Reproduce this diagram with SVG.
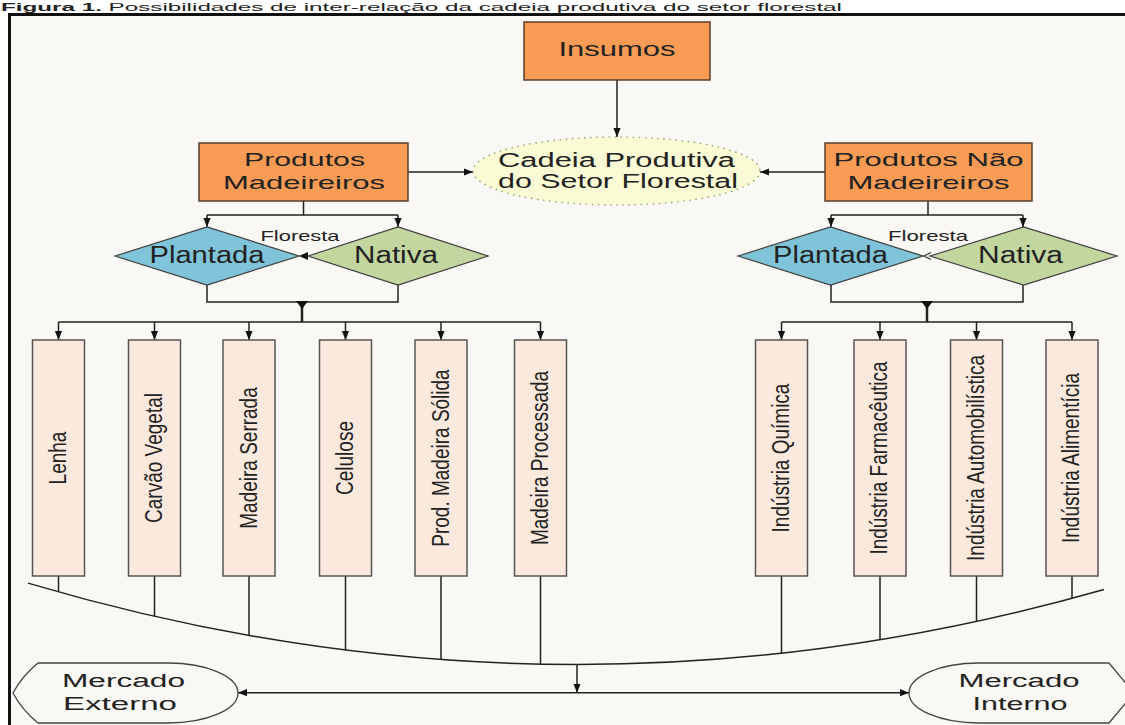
<svg xmlns="http://www.w3.org/2000/svg" width="1125" height="725" viewBox="0 0 1125 725">
<defs>
<marker id="arr" viewBox="0 0 10 10" refX="10" refY="5" markerWidth="9" markerHeight="9" orient="auto-start-reverse" markerUnits="userSpaceOnUse"><path d="M0,1 L10,5 L0,9 z" fill="#111"/></marker>
<style>
.t{font-family:"Liberation Sans",Arial,sans-serif;fill:#222;}
.c{text-anchor:middle;}
.orange{fill:#f79b55;stroke:#5a3e2b;stroke-width:1.5;}
.vbox{fill:#fbe9de;stroke:#555;stroke-width:1.5;}
.pl{fill:#80c4da;stroke:#3d3d3d;stroke-width:1.2;}
.na{fill:#c4d6a0;stroke:#3d3d3d;stroke-width:1.2;}
.mk{fill:#f9f8f4;stroke:#444;stroke-width:1.3;}
.ln{fill:none;stroke:#222;stroke-width:1.5;}
.ar{fill:none;stroke:#222;stroke-width:1.5;marker-end:url(#arr);}
.vt{font-family:"Liberation Sans",Arial,sans-serif;fill:#222;font-size:19px;text-anchor:middle;}
</style>
</defs>
<rect x="0" y="0" width="1125" height="725" fill="#ffffff"/>
<text x="1" y="10.6" font-family="'Liberation Sans',Arial,sans-serif" font-size="11" fill="#222" textLength="841" lengthAdjust="spacingAndGlyphs"><tspan font-weight="bold">Figura 1.</tspan> Possibilidades de inter-relação da cadeia produtiva do setor florestal</text>
<rect x="9.5" y="14.5" width="1130" height="725" fill="#f9f8f4" stroke="#111" stroke-width="3"/>

<g id="connectors">
<path class="ar" d="M617,80 V137"/>
<path class="ar" d="M408,172 H473"/>
<path class="ar" d="M825,172 H760"/>
<path class="ln" d="M303.5,201 V215 M207,215 H398"/>
<path class="ar" d="M207,215 V227"/>
<path class="ar" d="M398,215 V227"/>
<path class="ln" d="M928,201 V215 M831,215 H1023"/>
<path class="ar" d="M831,215 V227"/>
<path class="ar" d="M1023,215 V227"/>
<path class="ln" d="M207,285 V302 H398 V285"/>
<path d="M302,302 V322" stroke="#222" stroke-width="2.5"/>
<polygon points="296,301 308,301 302,309" fill="#111"/>
<polygon points="299,256 308,252 308,260" fill="#111"/>
<path class="ln" d="M831,285 V302 H1023 V285"/>
<path d="M927,302 V322" stroke="#222" stroke-width="2.5"/>
<polygon points="921,301 933,301 927,309" fill="#111"/>
<path d="M931,252.5 L924,256 L931,259.5" fill="none" stroke="#333" stroke-width="1.2"/>
<path class="ln" d="M58.5,322 H540.5"/>
<path class="ar" d="M58.5,322 V340"/>
<path class="ar" d="M154.5,322 V340"/>
<path class="ar" d="M249,322 V340"/>
<path class="ar" d="M345.5,322 V340"/>
<path class="ar" d="M441,322 V340"/>
<path class="ar" d="M540.5,322 V340"/>
<path class="ln" d="M781.5,322 H1072"/>
<path class="ar" d="M781.5,322 V340"/>
<path class="ar" d="M880,322 V340"/>
<path class="ar" d="M976.5,322 V340"/>
<path class="ar" d="M1072,322 V340"/>
<path class="ln" d="M58.5,576 V592 M154.5,576 V616.5 M249,576 V635.7 M345.5,576 V650.2 M441,576 V659.7 M540.5,576 V664.3 M781.5,576 V653.4 M880,576 V639.9 M976.5,576 V621.6 M1072,576 V598.5"/>
<path class="ln" d="M28,583.1 Q302.5,664.5 577,664.5 Q840.5,664.5 1104,589.5"/>
<path class="ar" d="M577,664.5 V692.7"/>
<path d="M238,692.7 H909" fill="none" stroke="#222" stroke-width="1.5" marker-start="url(#arr)" marker-end="url(#arr)"/>
</g>

<g id="insumos">
<rect class="orange" x="524" y="22" width="186" height="58"/>
<text class="t c" x="617" y="56" font-size="20" textLength="117" lengthAdjust="spacingAndGlyphs">Insumos</text>
</g>
<g id="cadeia">
<ellipse cx="616.5" cy="171" rx="143.5" ry="34" fill="#fafad4" stroke="#86a872" stroke-width="1.6" stroke-dasharray="0.1 6" stroke-linecap="round"/>
<text class="t c" x="616.5" y="166.7" font-size="20" textLength="237" lengthAdjust="spacingAndGlyphs">Cadeia Produtiva</text>
<text class="t c" x="618" y="188.3" font-size="20" textLength="240" lengthAdjust="spacingAndGlyphs">do Setor Florestal</text>
</g>
<g id="produtos-madeireiros">
<rect class="orange" x="199" y="143" width="209" height="58"/>
<text class="t c" x="304.5" y="166" font-size="19" textLength="121" lengthAdjust="spacingAndGlyphs">Produtos</text>
<text class="t c" x="304" y="189.3" font-size="19" textLength="162" lengthAdjust="spacingAndGlyphs">Madeireiros</text>
</g>
<g id="produtos-nao-madeireiros">
<rect class="orange" x="825" y="143" width="207" height="58"/>
<text class="t c" x="928.5" y="166" font-size="19" textLength="190" lengthAdjust="spacingAndGlyphs">Produtos Não</text>
<text class="t c" x="928.5" y="189.3" font-size="19" textLength="162" lengthAdjust="spacingAndGlyphs">Madeireiros</text>
</g>

<g id="plantada-esq">
<polygon class="pl" points="115,256 207,227 299,256 207,285"/>
<text class="t c" x="207" y="263" font-size="23" textLength="115" lengthAdjust="spacingAndGlyphs">Plantada</text>
</g>
<g id="nativa-esq">
<polygon class="na" points="308,256 398,227 488,256 398,285"/>
<text class="t c" x="396" y="263" font-size="23" textLength="84" lengthAdjust="spacingAndGlyphs">Nativa</text>
</g>
<g id="floresta-esq">
<text class="t c" x="300" y="241" font-size="15" fill="#333" textLength="79" lengthAdjust="spacingAndGlyphs">Floresta</text>
</g>
<g id="plantada-dir">
<polygon class="pl" points="738,256 830.5,227 923,256 830.5,285"/>
<text class="t c" x="830.5" y="263" font-size="23" textLength="115" lengthAdjust="spacingAndGlyphs">Plantada</text>
</g>
<g id="nativa-dir">
<polygon class="na" points="930,256 1023.5,227 1117,256 1023.5,285"/>
<text class="t c" x="1020.5" y="263" font-size="23" textLength="85" lengthAdjust="spacingAndGlyphs">Nativa</text>
</g>
<g id="floresta-dir">
<text class="t c" x="928" y="241" font-size="15" textLength="80" lengthAdjust="spacingAndGlyphs">Floresta</text>
</g>

<g id="lenha"><rect class="vbox" x="32.5" y="340" width="52" height="236"/><text class="vt" transform="translate(66,458) scale(1.25,1) rotate(-90)">Lenha</text></g>
<g id="carvao"><rect class="vbox" x="128.5" y="340" width="52" height="236"/><text class="vt" transform="translate(162,458) scale(1.25,1) rotate(-90)">Carvão Vegetal</text></g>
<g id="serrada"><rect class="vbox" x="223" y="340" width="52" height="236"/><text class="vt" transform="translate(256.5,458) scale(1.25,1) rotate(-90)">Madeira Serrada</text></g>
<g id="celulose"><rect class="vbox" x="319.5" y="340" width="52" height="236"/><text class="vt" transform="translate(353,458) scale(1.25,1) rotate(-90)">Celulose</text></g>
<g id="solida"><rect class="vbox" x="415" y="340" width="52" height="236"/><text class="vt" transform="translate(448.5,458) scale(1.25,1) rotate(-90)">Prod. Madeira Sólida</text></g>
<g id="processada"><rect class="vbox" x="514.5" y="340" width="52" height="236"/><text class="vt" transform="translate(548,458) scale(1.25,1) rotate(-90)">Madeira Processada</text></g>

<g id="quimica"><rect class="vbox" x="755.5" y="340" width="52" height="236"/><text class="vt" transform="translate(788.5,458) scale(1.25,1) rotate(-90)">Indústria Química</text></g>
<g id="farmaceutica"><rect class="vbox" x="854" y="340" width="52" height="236"/><text class="vt" transform="translate(887,458) scale(1.25,1) rotate(-90)">Indústria Farmacêutica</text></g>
<g id="automobilistica"><rect class="vbox" x="950.5" y="340" width="52" height="236"/><text class="vt" transform="translate(983.5,458) scale(1.25,1) rotate(-90)">Indústria Automobilística</text></g>
<g id="alimenticia"><rect class="vbox" x="1046" y="340" width="52" height="236"/><text class="vt" transform="translate(1079,458) scale(1.25,1) rotate(-90)">Indústria Alimentícia</text></g>

<g id="mercado-externo">
<path class="mk" d="M38,663 H168 A70,30 0 0 1 168,723 H38 Q22,710 13,693 Q22,676 38,663 Z"/>
<text class="t c" x="123.5" y="687" font-size="18" textLength="123" lengthAdjust="spacingAndGlyphs">Mercado</text>
<text class="t c" x="120" y="710" font-size="18" textLength="114" lengthAdjust="spacingAndGlyphs">Externo</text>
</g>
<g id="mercado-interno">
<path class="mk" d="M1109,663 H979 A70,30 0 0 0 979,723 H1109 L1134,693 Z"/>
<text class="t c" x="1019" y="687" font-size="18" textLength="121" lengthAdjust="spacingAndGlyphs">Mercado</text>
<text class="t c" x="1020" y="710" font-size="18" textLength="95" lengthAdjust="spacingAndGlyphs">Interno</text>
</g>
</svg>
